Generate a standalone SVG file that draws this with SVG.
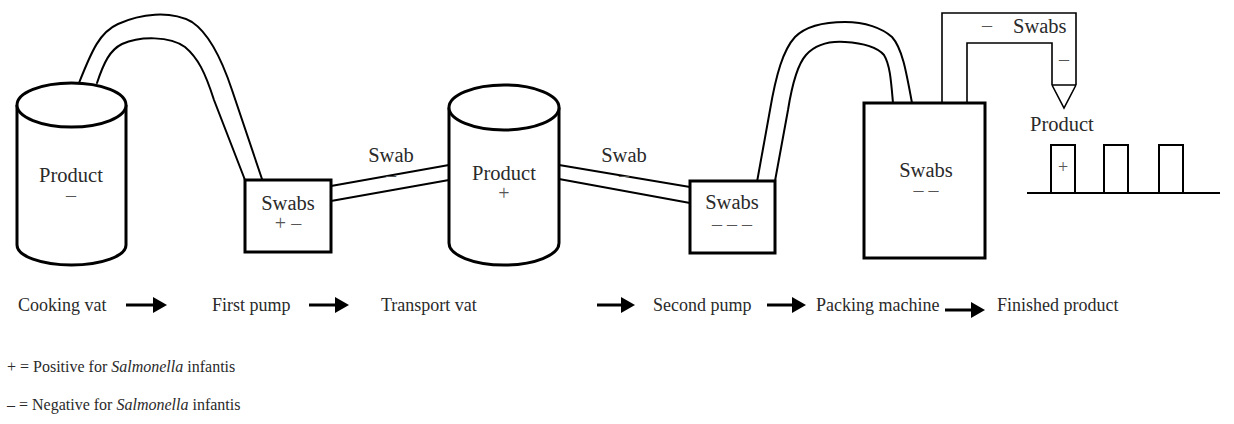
<svg xmlns="http://www.w3.org/2000/svg" width="1234" height="424" viewBox="0 0 1234 424" font-family="'Liberation Serif', 'Times New Roman', serif">
<style>
  text { font-family: "Liberation Serif", "Times New Roman", serif; fill: #2a2a2a; }
  .lbl { font-family: "Liberation Serif", "Times New Roman", serif; font-size: 20.5px; text-anchor: middle; }
  .sign { font-family: "Liberation Serif", "Times New Roman", serif; font-size: 20px; text-anchor: middle; fill: #555; }
  .step { font-family: "Liberation Serif", "Times New Roman", serif; font-size: 18px; }
  .leg { font-family: "Liberation Serif", "Times New Roman", serif; font-size: 16px; }
  .vessel { fill: #fff; stroke: #000; stroke-width: 3; }
  .box { fill: #fff; stroke: #000; stroke-width: 3; }
  .hose { fill: none; stroke: #000; stroke-width: 2; stroke-linecap: round; }
  .pipe { fill: none; stroke: #000; stroke-width: 1.6; }
  .flow { stroke: #000; stroke-width: 3; marker-end: url(#ah); }
  .prod { fill: #fff; stroke: #000; stroke-width: 2; }
</style>
<defs>
  <marker id="ah" markerUnits="userSpaceOnUse" markerWidth="14" markerHeight="16" refX="0" refY="8" orient="auto">
    <path d="M0,0 L14,8 L0,16 Z" fill="#000"/>
  </marker>
</defs>
<rect width="1234" height="424" fill="#fff"/>

<g id="connectors">
  <path class="hose" d="M79,83 C92,50 100,32 118,24 C140,14 170,10 192,22 C210,34 222,60 232,90 L263,182"/>
  <path class="hose" d="M97,83 C104,62 110,50 122,44 C140,36 170,36 185,47 C198,58 205,72 214,100 L245,180"/>
  <line class="hose" x1="331" y1="186" x2="449" y2="165"/>
  <line class="hose" x1="331" y1="201" x2="449" y2="180"/>
  <line class="hose" x1="559" y1="165" x2="690" y2="187"/>
  <line class="hose" x1="559" y1="179" x2="690" y2="203"/>
  <path class="hose" d="M757,182 L770,110 C776,75 783,50 795,37 C808,24 830,22 845,22 C865,22 882,28 892,37 C902,48 906,70 912,103"/>
  <path class="hose" d="M775,181 L788,110 C792,85 797,65 806,55 C816,44 830,41 845,42 C862,43 877,47 884,55 C890,65 891,80 893,103"/>
  <path class="pipe" d="M942,103 V13 H1076 V85"/>
  <path class="pipe" d="M967,103 V43 H1052 V85"/>
  <path class="pipe" d="M1052,85 H1076 M1052,85 L1064,108 L1076,85"/>
  <line class="flow" x1="126" y1="305" x2="153" y2="305"/>
  <line class="flow" x1="309" y1="305" x2="335" y2="305"/>
  <line class="flow" x1="597" y1="305" x2="621" y2="305"/>
  <line class="flow" x1="767" y1="305" x2="792" y2="305"/>
  <line class="flow" x1="945" y1="310" x2="971" y2="310"/>
</g>

<g id="cooking-vat">
  <path class="vessel" d="M17,105 L17,245 A54.5,20 0 0 0 126,245 L126,105"/>
  <ellipse class="vessel" cx="71.5" cy="105" rx="54.5" ry="22"/>
  <text class="lbl" x="71" y="182">Product</text>
  <text class="sign" x="71" y="202">–</text>
</g>

<g id="first-pump">
  <rect class="box" x="245" y="180" width="86" height="72"/>
  <text class="lbl" x="288" y="210">Swabs</text>
  <text class="sign" x="288" y="230">+ –</text>
</g>

<g id="swab-1">
  <text class="lbl" x="391" y="162">Swab</text>
  <text class="sign" x="391" y="182">–</text>
</g>

<g id="transport-vat">
  <path class="vessel" d="M449,107.5 L449,243 A55,22 0 0 0 559,243 L559,107.5"/>
  <ellipse class="vessel" cx="504" cy="107.5" rx="55" ry="22.5"/>
  <text class="lbl" x="504" y="180">Product</text>
  <text class="sign" x="504" y="200">+</text>
</g>

<g id="swab-2">
  <text class="lbl" x="624" y="162">Swab</text>
  <text class="sign" x="624" y="182">–</text>
</g>

<g id="second-pump">
  <rect class="box" x="690" y="181" width="85" height="72"/>
  <text class="lbl" x="732" y="209">Swabs</text>
  <text class="sign" x="732" y="231">– – –</text>
</g>

<g id="packing-machine">
  <rect class="box" x="864" y="103" width="121" height="155"/>
  <text class="lbl" x="926" y="177">Swabs</text>
  <text class="sign" x="926" y="197">– –</text>
  <text class="sign" x="987" y="32">–</text>
  <text class="lbl" x="1013" y="33" style="text-anchor:start">Swabs</text>
  <text class="sign" x="1064" y="66">–</text>
</g>

<g id="finished-product">
  <text class="lbl" x="1030" y="131" style="text-anchor:start">Product</text>
  <rect class="prod" x="1051" y="145" width="24" height="48"/>
  <rect class="prod" x="1104" y="145" width="24" height="48"/>
  <rect class="prod" x="1159" y="145" width="24" height="48"/>
  <line x1="1027" y1="193" x2="1220" y2="193" stroke="#000" stroke-width="2"/>
  <text class="sign" x="1063" y="173" style="font-size:18px">+</text>
</g>

<g id="step-labels">
  <text class="step" x="18" y="311">Cooking vat</text>
  <text class="step" x="212" y="311">First pump</text>
  <text class="step" x="381" y="311">Transport vat</text>
  <text class="step" x="653" y="311">Second pump</text>
  <text class="step" x="816" y="311">Packing machine</text>
  <text class="step" x="997" y="311">Finished product</text>
</g>

<g id="legend">
  <text class="leg" x="7" y="372">+ = Positive for <tspan font-style="italic">Salmonella</tspan> infantis</text>
  <text class="leg" x="7" y="410">– = Negative for <tspan font-style="italic">Salmonella</tspan> infantis</text>
</g>
</svg>
